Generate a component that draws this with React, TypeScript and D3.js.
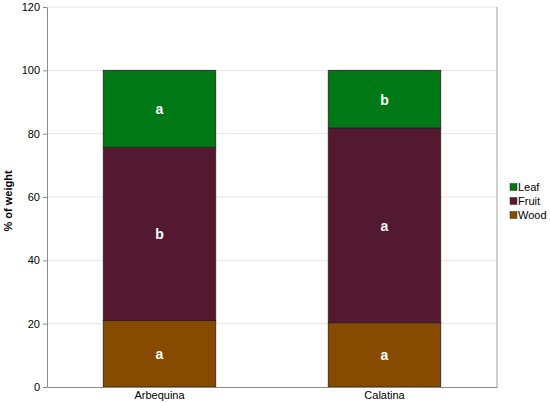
import React, { useRef, useEffect } from 'react';
import * as d3 from 'd3';

const cultivars = ['Arbequina', 'Calatina'];
const organs = ['Wood', 'Fruit', 'Leaf'];
const woodValues = [21.0, 20.3];
const fruitValues = [54.7, 61.5];
const leafValues = [24.3, 18.2];
const woodLetters = ['a', 'a'];
const fruitLetters = ['b', 'a'];
const leafLetters = ['a', 'b'];
const yTicks = [0, 20, 40, 60, 80, 100, 120];
const organColors = ['#874b00', '#521930', '#007816'];

function App() {
  const ref = useRef(null);

  useEffect(() => {
    draw();
  }, []);

  function draw() {
    const width = 550;
    const height = 403;
    const margin = { top: 7, right: 53, bottom: 16, left: 47 };
    const font = 'Arial, "Liberation Sans", sans-serif';

    const root = d3.select(ref.current);
    root.selectAll('*').remove();
    const svg = root.append('svg')
      .attr('width', width)
      .attr('height', height)
      .style('display', 'block')
      .style('position', 'absolute')
      .style('left', '0px')
      .style('top', '0px')
      .style('font-family', font);

    const x = d3.scaleBand()
      .domain(cultivars)
      .range([margin.left, width - margin.right])
      .paddingInner(0.5)
      .paddingOuter(0.25);

    const y = d3.scaleLinear()
      .domain([0, 120])
      .range([height - margin.bottom, margin.top]);

    // grid
    svg.append('g')
      .selectAll('line')
      .data(yTicks.filter(d => d > 0))
      .join('line')
      .attr('x1', margin.left)
      .attr('x2', width - margin.right)
      .attr('y1', d => y(d))
      .attr('y2', d => y(d))
      .attr('stroke', '#e4e4e4')
      .attr('stroke-width', 1);

    // right border
    svg.append('line')
      .attr('x1', width - margin.right)
      .attr('x2', width - margin.right)
      .attr('y1', margin.top)
      .attr('y2', height - margin.bottom)
      .attr('stroke', '#a0a0a0');

    const table = cultivars.map((c, i) => ({
      cultivar: c,
      Wood: woodValues[i],
      Fruit: fruitValues[i],
      Leaf: leafValues[i],
    }));
    const letters = { Wood: woodLetters, Fruit: fruitLetters, Leaf: leafLetters };

    const series = d3.stack().keys(organs)(table as any);

    const layers = svg.append('g')
      .selectAll('g')
      .data(series)
      .join('g')
      .attr('fill', (d, i) => organColors[i]);

    layers.selectAll('rect')
      .data(d => d)
      .join('rect')
      .attr('x', (d: any) => x(d.data.cultivar))
      .attr('width', x.bandwidth())
      .attr('y', d => y(d[1]))
      .attr('height', d => y(d[0]) - y(d[1]))
      .attr('stroke', '#2b1f1f')
      .attr('stroke-width', 0.8);

    series.forEach(s => {
      svg.append('g')
        .selectAll('text')
        .data(s)
        .join('text')
        .attr('x', (d: any) => x(d.data.cultivar) + x.bandwidth() / 2)
        .attr('y', d => (y(d[0]) + y(d[1])) / 2)
        .attr('dy', '0.4em')
        .attr('text-anchor', 'middle')
        .attr('fill', '#ffffff')
        .attr('font-weight', 'bold')
        .attr('font-size', 14)
        .text((d, i) => letters[s.key][i]);
    });

    // y axis
    const yAxis = svg.append('g')
      .attr('transform', `translate(${margin.left},0)`)
      .call(d3.axisLeft(y).tickValues(yTicks).tickSize(4).tickPadding(3).tickSizeOuter(0));
    yAxis.select('.domain').attr('stroke', '#8c8c8c');
    yAxis.selectAll('.tick line').attr('stroke', '#8c8c8c');
    yAxis.selectAll('.tick text').attr('font-size', 11).attr('fill', '#000').style('font-family', font);

    // x axis
    const xAxis = svg.append('g')
      .attr('transform', `translate(0,${height - margin.bottom})`)
      .call(d3.axisBottom(x).tickSize(0).tickPadding(4).tickSizeOuter(0));
    xAxis.select('.domain').attr('stroke', '#8c8c8c');
    xAxis.selectAll('.tick text').attr('font-size', 11).attr('fill', '#000').style('font-family', font);

    svg.append('text')
      .attr('transform', 'translate(11.5,201) rotate(-90)')
      .attr('text-anchor', 'middle')
      .attr('font-size', 11)
      .attr('font-weight', 'bold')
      .text('% of weight');

    // legend
    const legendItems = organs.slice().reverse();
    const legend = svg.append('g')
      .attr('transform', 'translate(510,187)')
      .selectAll('g')
      .data(legendItems)
      .join('g')
      .attr('transform', (d, i) => `translate(0,${i * 14})`);
    legend.append('rect')
      .attr('x', 0)
      .attr('y', -3.5)
      .attr('width', 7)
      .attr('height', 7)
      .attr('fill', d => organColors[organs.indexOf(d)])
      .attr('stroke', '#333')
      .attr('stroke-width', 0.5);
    legend.append('text')
      .attr('x', 8)
      .attr('dy', '0.35em')
      .attr('font-size', 11)
      .text(d => d);
  }

  return (
    <div ref={ref} style={{ width: 550, height: 403 }} />
  );
}

export default App;
